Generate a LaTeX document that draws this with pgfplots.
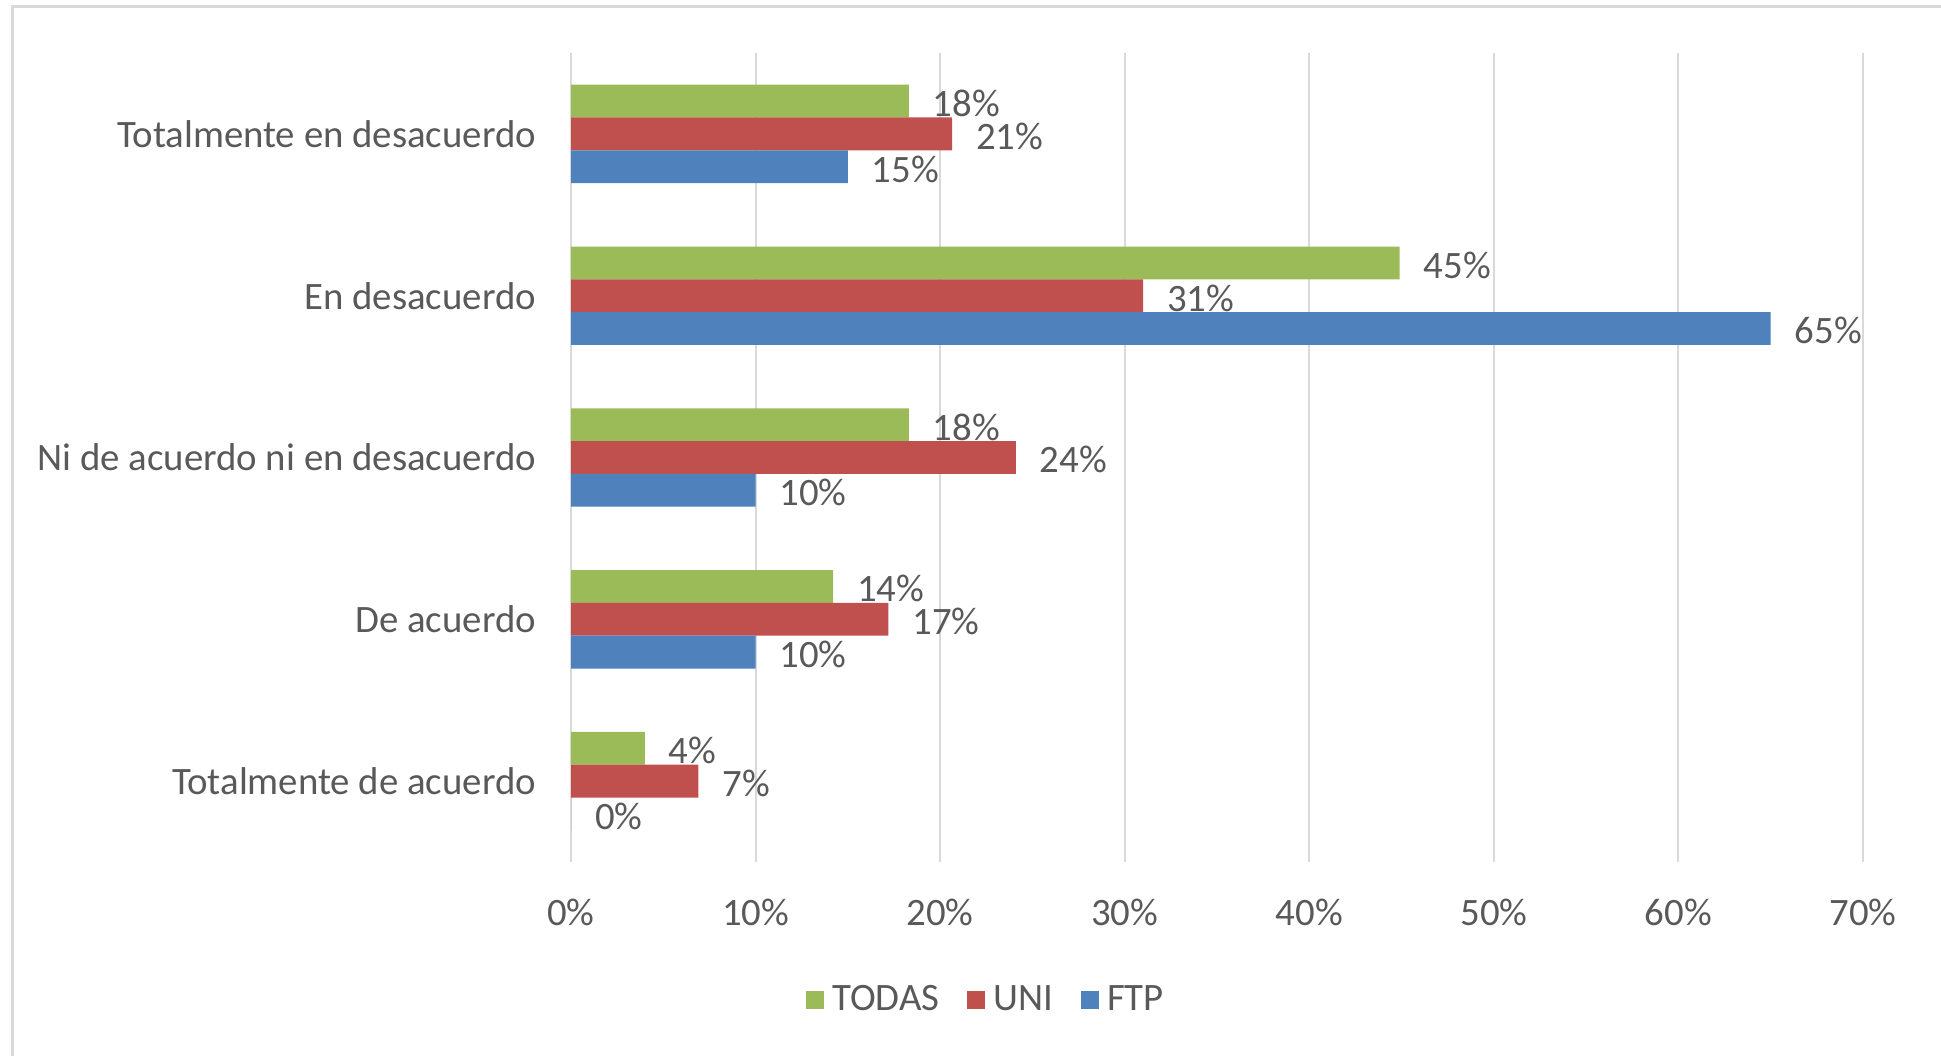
\documentclass[border=0pt]{standalone}
\usepackage{pgfplots}
\pgfplotsset{compat=1.18}
\usepackage{fontspec}
\setmainfont{Carlito}
\definecolor{cgreen}{HTML}{9BBB59}
\definecolor{cred}{HTML}{C0504D}
\definecolor{cblue}{HTML}{4F81BD}
\definecolor{txtgray}{HTML}{595959}
\definecolor{gridgray}{HTML}{D9D9D9}
\newcommand{\lbl}{\fontsize{19.4}{23}\selectfont}
\begin{document}
\begin{tikzpicture}
\useasboundingbox (0,0) rectangle (970.5pt,527.5pt);
\begin{scope}
\clip (0,0) rectangle (970.5pt,527.5pt);
\draw[gridgray, line width=1.5pt] (6pt,-5pt) -- (6pt,524pt) -- (980pt,524pt);
\end{scope}
\begin{axis}[
  at={(285.5pt,96.5pt)}, anchor=south west,
  scale only axis, width=646pt, height=404.5pt,
  xbar, bar width=16.4pt,
  xmin=0, xmax=70, ymin=-0.5, ymax=4.5,
  xtick={0,10,...,70},
  xticklabels={0\%,10\%,20\%,30\%,40\%,50\%,60\%,70\%},
  ytick={0,1,2,3,4},
  yticklabels={Totalmente de acuerdo, De acuerdo, Ni de acuerdo ni en desacuerdo, En desacuerdo, Totalmente en desacuerdo},
  axis line style={draw=none}, major tick length=0pt,
  xmajorgrids, grid style={gridgray, line width=1pt},
  xticklabel style={font=\lbl, text=txtgray, yshift=-15pt},
  yticklabel style={font=\lbl, text=txtgray, xshift=-14pt},
  point meta=x,
  nodes near coords={\pgfmathprintnumber[fixed,precision=0,assume math mode=true]{\pgfplotspointmeta}\%},
  nodes near coords style={font=\lbl, text=txtgray, anchor=west, xshift=8.5pt, yshift=-1.2pt},
  legend style={at={(0.322,-0.170)}, anchor=center, draw=none, fill=none,
    legend columns=-1, font=\lbl, text=txtgray,
    /tikz/every odd column/.append style={column sep=2pt},
    /tikz/every even column/.append style={column sep=12pt}},
  legend image code/.code={\fill[#1] (0pt,-4.5pt) rectangle (9pt,4.5pt);},
]
\addplot[draw=none, fill=cgreen, bar shift=16.4pt] coordinates {(4.0,0) (14.2,1) (18.3,2) (44.9,3) (18.3,4)};
\addlegendentry{TODAS}
\addplot[draw=none, fill=cred, bar shift=0pt] coordinates {(6.9,0) (17.2,1) (24.1,2) (31.0,3) (20.65,4)};
\addlegendentry{UNI}
\addplot[draw=none, fill=cblue, bar shift=-16.4pt] coordinates {(0,0) (10,1) (10,2) (65,3) (15,4)};
\addlegendentry{FTP}
\end{axis}
\end{tikzpicture}
\end{document}
